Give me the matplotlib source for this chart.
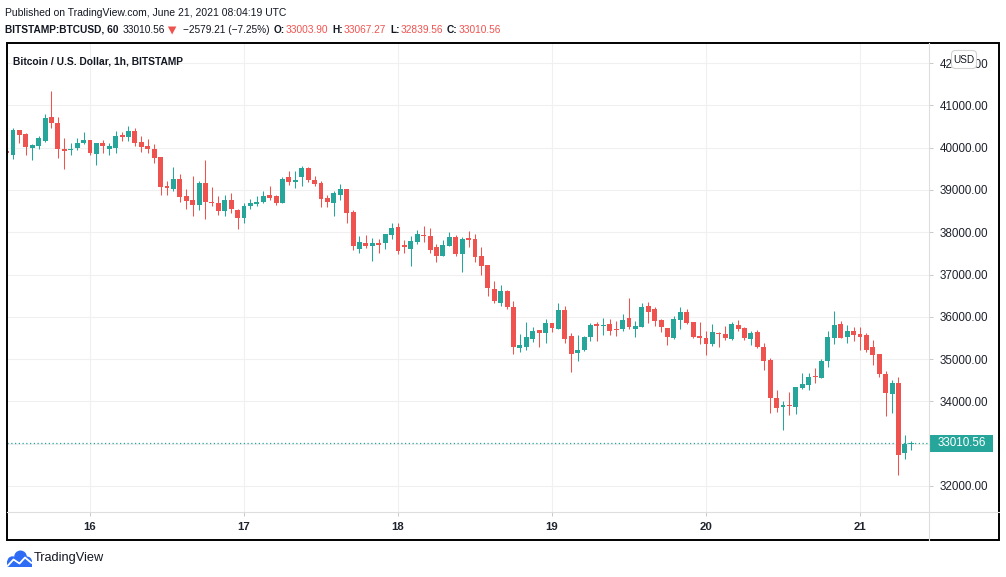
import numpy as np
import pandas as pd
import matplotlib
matplotlib.use("Agg")
import matplotlib.pyplot as plt
import matplotlib.dates as mdates
from matplotlib.patches import Rectangle, FancyBboxPatch, Circle, Polygon

plt.rcParams['font.family'] = ['Liberation Sans', 'DejaVu Sans']

# ---------------- data (hourly candles, BITSTAMP:BTCUSD) ----------------
start_time = '2021-06-15 11:00'
opens = [39930, 39833, 40416, 40322, 39998, 40046, 40156, 40723, 40582, 39967,
         39950, 39991, 40109, 40180, 39857, 40109, 39975, 39991, 40306, 40243,
         40393, 40132, 40038, 39967, 39777, 39092, 39029, 39249, 38856, 38761,
         38651, 39163, 38722, 38690, 38509, 38761, 38533, 38343, 38627, 38675,
         38722, 38879, 38856, 38698, 39304, 39194, 39297, 39517, 39241, 39163,
         38801, 38682, 38879, 39021, 38469, 37611, 37745, 37681, 37745, 37745,
         37941, 38123, 37705, 37611, 37768, 37941, 37910, 37650, 37445, 37681,
         37886, 37492, 37863, 37839, 37445, 37224, 36657, 36334, 36618, 36232,
         35271, 35294, 35476, 35688, 35618, 35854, 35712, 36161, 35547, 35152,
         35216, 35531, 35838, 35791, 35830, 35712, 35720, 35972, 35720, 35767,
         36256, 36184, 35925, 35735, 35507, 35924, 36113, 35877, 35546, 35499,
         35365, 35625, 35593, 35483, 35806, 35735, 35483, 35640, 35286, 34979,
         34080, 33876, 33915, 33876, 34317, 34395, 34600, 34561, 34955, 35507,
         35830, 35530, 35664, 35593, 35578, 35286, 35121, 34648, 34183, 34435,
         32788, 33003.90]
highs = [39960, 40471, 40420, 40353, 40077, 40274, 40794, 41338, 40723, 40219,
         40109, 40219, 40369, 40180, 40109, 40180, 40109, 40393, 40369, 40511,
         40463, 40274, 40203, 40085, 39777, 39210, 39541, 39375, 39021, 39328,
         39210, 39706, 39076, 38856, 38879, 38926, 38556, 38682, 38777, 38856,
         38982, 39092, 38879, 39312, 39446, 39446, 39565, 39541, 39328, 39210,
         38879, 38982, 39139, 39021, 38525, 37910, 37934, 37863, 37839, 37965,
         38217, 38217, 37815, 37910, 38060, 38146, 38099, 37729, 37815, 38005,
         37941, 37886, 38020, 37965, 37650, 37224, 36846, 36752, 36640, 36374,
         35594, 35877, 35751, 35688, 35948, 35854, 36327, 36256, 35610, 35570,
         35540, 35862, 35877, 35972, 35941, 35901, 36067, 36445, 35901, 36319,
         36350, 36232, 35948, 35740, 36019, 36231, 36184, 35877, 35877, 35664,
         35829, 35640, 35782, 35877, 35924, 35759, 35664, 35688, 35381, 35026,
         34269, 34001, 34222, 34332, 34671, 34671, 34789, 35002, 35664, 36137,
         35900, 35806, 35750, 35750, 35617, 35451, 35121, 34719, 34498, 34577,
         33206, 33067.27]
lows = [39830, 39730, 40117, 39825, 39707, 39975, 40132, 40471, 39762, 39502,
        39825, 39943, 40085, 39825, 39597, 39880, 39825, 39865, 40164, 40164,
        40038, 39904, 39880, 39644, 38879, 38871, 38982, 38706, 38556, 38390,
        38517, 38320, 38619, 38414, 38390, 38446, 38083, 38225, 38556, 38619,
        38682, 38769, 38651, 38698, 39123, 39045, 39100, 39194, 39100, 38603,
        38603, 38390, 38761, 38225, 37579, 37516, 37634, 37319, 37516, 37595,
        37831, 37484, 37500, 37201, 37729, 37768, 37500, 37303, 37445, 37681,
        37445, 37067, 37650, 37303, 36988, 36492, 36318, 36255, 36185, 35129,
        35168, 35216, 35397, 35294, 35389, 35641, 35712, 35389, 34703, 34963,
        35200, 35436, 35436, 35570, 35578, 35554, 35665, 35720, 35531, 35767,
        35862, 35791, 35641, 35341, 35475, 35711, 35829, 35507, 35365, 35105,
        35318, 35294, 35451, 35451, 35672, 35451, 35341, 35270, 34750, 33734,
        33757, 33332, 33678, 33710, 34293, 34277, 34435, 34561, 34821, 35365,
        35507, 35388, 35436, 35223, 35176, 34868, 34585, 33663, 33726, 32268,
        32646, 32839.56]
closes = [39865, 40416, 40298, 40022, 40054, 40219, 40700, 40590, 39975, 39927,
          39967, 40109, 40180, 39880, 40109, 40046, 40038, 40274, 40259, 40393,
          40117, 40022, 39975, 39762, 39076, 39052, 39249, 38840, 38745, 38651,
          39155, 38722, 38682, 38509, 38761, 38556, 38343, 38619, 38690, 38722,
          38856, 38816, 38690, 39257, 39194, 39241, 39517, 39241, 39147, 38785,
          38722, 38919, 39021, 38462, 37681, 37760, 37681, 37745, 37705, 37965,
          38099, 37563, 37658, 37800, 37965, 37902, 37587, 37445, 37705, 37886,
          37484, 37839, 37815, 37406, 37209, 36689, 36381, 36618, 36240, 35294,
          35334, 35523, 35665, 35618, 35854, 35744, 36161, 35476, 35129, 35216,
          35523, 35807, 35791, 35815, 35665, 35697, 35925, 35751, 35783, 36232,
          36114, 35909, 35767, 35530, 35948, 36113, 35853, 35530, 35507, 35365,
          35640, 35601, 35507, 35838, 35719, 35499, 35617, 35294, 34963, 34088,
          33852, 33907, 33899, 34332, 34411, 34577, 34577, 34955, 35522, 35806,
          35507, 35664, 35570, 35530, 35223, 35105, 34655, 34207, 34427, 32741,
          33004, 33010.56]

price_ticks = [32000, 33000, 34000, 35000, 36000, 37000, 38000, 39000, 40000, 41000, 42000]
day_ticks = ['2021-06-16', '2021-06-17', '2021-06-18', '2021-06-19', '2021-06-20', '2021-06-21']
day_labels = ['16', '17', '18', '19', '20', '21']
prev_close = 35589.77

title_text = 'Bitcoin / U.S. Dollar, 1h, BITSTAMP'
published_text = 'Published on TradingView.com, June 21, 2021 08:04:19 UTC'
symbol_text = 'BITSTAMP:BTCUSD, 60'

UP = '#26a69a'
DOWN = '#ef5350'
DARK = '#131722'

# ---------------- figure ----------------
W, H = 1006, 577
fig = plt.figure(figsize=(W / 100, H / 100), dpi=100)
fig.patch.set_facecolor('white')

pl, pr, pt, pb = 6.7, 929.3, 43.3, 512.3  # plot area (pixels)
ax = fig.add_axes([pl / W, 1 - pb / H, (pr - pl) / W, (pb - pt) / H])
ax.set_facecolor('white')

times = pd.date_range(start_time, periods=len(opens), freq='h')
x = mdates.date2num(times)
o = np.array(opens, float)
h = np.array(highs, float)
l = np.array(lows, float)
c = np.array(closes, float)
up = c >= o
cols = np.where(up, UP, DOWN)

t16 = mdates.date2num(pd.Timestamp(day_ticks[0]))
ax.set_xlim(t16 - 12.98 / 24, t16 + 130.8 / 24)
ax.set_ylim(31378, 42466)

ax.vlines(x, l, h, colors=cols, lw=0.75, zorder=3)
body_bottom = np.minimum(o, c)
body_h = np.maximum(np.abs(c - o), 22)
ax.bar(x, body_h, bottom=body_bottom, width=0.76 / 24, color=cols, linewidth=0, zorder=4)

# last price dotted line
ax.axhline(c[-1], color=UP, lw=0.9, ls=(0, (1, 2)), zorder=2)

# grid & ticks
ax.set_yticks(price_ticks)
ax.set_yticklabels(['' if v == 33000 else f'{v:.2f}' for v in price_ticks])
ax.yaxis.tick_right()
ax.set_xticks([mdates.date2num(pd.Timestamp(d)) for d in day_ticks])
ax.set_xticklabels(day_labels, fontweight='bold')
ax.tick_params(axis='y', labelsize=8.4, labelcolor='#1f232d', length=3, width=0.7,
               color='#c9c9c9', pad=4.5)
ax.tick_params(axis='x', labelsize=8.2, labelcolor='#1f232d', length=3, width=0.7,
               color='#c9c9c9', pad=4)
ax.grid(True, color='#f0f0f0', lw=0.8, zorder=0)
ax.set_axisbelow(True)
for s in ax.spines.values():
    s.set_visible(False)

# ---------------- overlay (pixel coordinates) ----------------
ov = fig.add_axes([0, 0, 1, 1], zorder=10)
ov.set_xlim(0, W)
ov.set_ylim(H, 0)
ov.axis('off')
ov.patch.set_alpha(0)

ov.plot([pr, pr], [pt, 540.3], color='#dedede', lw=0.8)
ov.plot([pl, 999.3], [pb, pb], color='#dedede', lw=0.8)
ov.add_patch(Rectangle((pl, pt), 999.3 - pl, 540.3 - pt, fill=False, ec='black', lw=1.4))

fig.canvas.draw()
renderer = fig.canvas.get_renderer()

# last price box
ydisp = ax.transData.transform((x[-1], c[-1]))[1]
ypx = H - ydisp
ov.add_patch(Rectangle((pr, ypx - 8.5), 64, 17, fc=UP, ec='none'))
ov.text(pr + 32.5, ypx, f'{c[-1]:.2f}', color='white', fontsize=8.4, ha='center', va='center')

# USD badge (covers part of the top price label, as in the source)
ov.add_patch(FancyBboxPatch((951.5, 50.5), 25, 18, boxstyle='round,pad=0,rounding_size=4',
                            fc='white', ec='#d3d3d3', lw=0.8))
ov.text(964, 59.8, 'USD', fontsize=7.2, color=DARK, ha='center', va='center')

# chart title
ov.text(13, 61, title_text, fontsize=7.4, fontweight='bold', color=DARK, va='center')

# header line 1
ov.text(5, 13, published_text, fontsize=7.5, color=DARK, va='center')

# header line 2 (laid out piece by piece)
chg = c[-1] - prev_close
pct = chg / prev_close * 100
y2 = 30
fs2 = 7.3


def put(xpos, s, gap, **kw):
    t = ov.text(xpos, y2, s, fontsize=fs2, va='center', **kw)
    bb = t.get_window_extent(renderer)
    return xpos + bb.width + gap


xc = 5
xc = put(xc, symbol_text, 4, fontweight='bold', color=DARK)
xc = put(xc, f'{c[-1]:.2f}', 3, color=DARK)
ov.add_patch(Polygon([[xc, y2 - 3.5], [xc + 8.5, y2 - 3.5], [xc + 4.25, y2 + 4.5]],
                     closed=True, fc=DOWN, ec='none'))
xc += 15
xc = put(xc, f'\u2212{abs(chg):.2f} (\u2212{abs(pct):.2f}%)', 4, color=DARK)
for lab, val in [('O:', o[-1]), ('H:', h[-1]), ('L:', l[-1]), ('C:', c[-1])]:
    xc = put(xc, lab, 1, fontweight='bold', color=DARK)
    xc = put(xc, f'{val:.2f}', 4, color=DOWN)

# TradingView logo
blue = '#2e6cf6'
for cx, cy, r in [(12.5, 561.5, 5.2), (20.5, 556.8, 6.3), (27.0, 561.5, 5.0)]:
    ov.add_patch(Circle((cx, cy), r, fc=blue, ec='none'))
ov.add_patch(Rectangle((7.3, 561), 24.7, 5.8, fc=blue, ec='none'))
ov.plot([7.5, 13.5, 19.5, 25, 31.5], [566, 559.5, 563.5, 557.5, 563], color='white', lw=1.3,
        solid_capstyle='round', solid_joinstyle='round')
ov.text(33.5, 558.5, 'TradingView', fontsize=9.2, color=DARK, va='center')

fig.savefig('out.png', dpi=100)
